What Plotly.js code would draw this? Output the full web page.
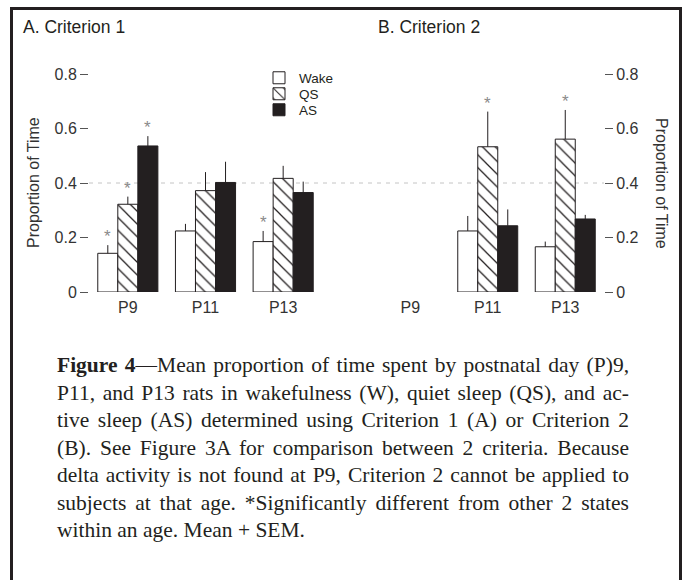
<!DOCTYPE html>
<html>
<head>
<meta charset="utf-8">
<script src="https://cdn.plot.ly/plotly-3.0.1.min.js"></script>
<style>
  html, body { margin: 0; padding: 0; background: #fff; }
  #wrap { position: relative; width: 686px; height: 580px; overflow: hidden; }
  #chart { position: absolute; left: 0; top: 0; width: 686px; height: 580px; }
  #frame { position: absolute; left: 10px; top: 7px; width: 666px; height: 600px;
           border: 3px solid #231f20; pointer-events: none; }
  #caption { position: absolute; left: 57px; top: 352px; width: 572px;
             font-family: "Liberation Serif", "Times New Roman", serif; font-size: 21.5px;
             line-height: 27.5px; color: #231f20; }
  #caption .ln { text-align: justify; text-align-last: justify; white-space: nowrap; }
  #caption .ln.last { text-align-last: left; }
</style>
</head>
<body>
<div id="wrap">
  <div id="chart"></div>
  <div id="frame"></div>
  <div id="caption">
    <div class="ln"><b>Figure 4</b>—Mean proportion of time spent by postnatal day (P)9,</div>
    <div class="ln">P11, and P13 rats in wakefulness (W), quiet sleep (QS), and ac-</div>
    <div class="ln">tive sleep (AS) determined using Criterion 1 (A) or Criterion 2</div>
    <div class="ln">(B). See Figure 3A for comparison between 2 criteria. Because</div>
    <div class="ln">delta activity is not found at P9, Criterion 2 cannot be applied to</div>
    <div class="ln">subjects at that age. *Significantly different from other 2 states</div>
    <div class="ln last">within an age. Mean + SEM.</div>
  </div>
</div>
<script>
// ---- data ----
const ages = ['P9', 'P11', 'P13'];
const states = ['Wake', 'QS', 'AS'];
const yTicks = [0, 0.2, 0.4, 0.6, 0.8];
const yTickText = ['0', '0.2', '0.4', '0.6', '0.8'];

const c1Wake = [0.142, 0.224, 0.185];
const c1WakeErr = [0.030, 0.026, 0.039];
const c1QS = [0.322, 0.372, 0.417];
const c1QSErr = [0.028, 0.068, 0.046];
const c1AS = [0.536, 0.402, 0.365];
const c1ASErr = [0.036, 0.076, 0.040];

const c2Wake = [null, 0.224, 0.166];
const c2WakeErr = [null, 0.055, 0.019];
const c2QS = [null, 0.533, 0.561];
const c2QSErr = [null, 0.129, 0.107];
const c2AS = [null, 0.243, 0.268];
const c2ASErr = [null, 0.060, 0.015];

const c1Sig = { Wake: [1, 0, 1], QS: [1, 0, 0], AS: [1, 0, 0] };
const c2Sig = { Wake: [0, 0, 0], QS: [0, 1, 1], AS: [0, 0, 0] };

const panelTitles = ['A. Criterion 1', 'B. Criterion 2'];
const yTitle = 'Proportion of Time';

// ---- styling ----
const W = 686, H = 580;
const PLOT_TOP = 74, PLOT_BOTTOM = 292, PH = PLOT_BOTTOM - PLOT_TOP;
const INK = '#231f20';
const FONT = 'Liberation Sans, Arial, sans-serif';
const bargap = 0.226;
const styles = {
  Wake: { color: '#ffffff', line: { color: INK, width: 1 } },
  QS: { color: '#ffffff', line: { color: INK, width: 1 },
        pattern: { shape: '\\', fgcolor: INK, bgcolor: '#ffffff', size: 9, solidity: 0.14 } },
  AS: { color: INK, line: { color: INK, width: 1 } }
};
const legendNames = ['legend', 'legend2', 'legend3'];
const legendRowsPx = [78, 94, 110];

const panels = [
  { vals: { Wake: c1Wake, QS: c1QS, AS: c1AS }, errs: { Wake: c1WakeErr, QS: c1QSErr, AS: c1ASErr },
    sig: c1Sig, xa: 'x', ya: 'y' },
  { vals: { Wake: c2Wake, QS: c2QS, AS: c2AS }, errs: { Wake: c2WakeErr, QS: c2QSErr, AS: c2ASErr },
    sig: c2Sig, xa: 'x2', ya: 'y2' }
];

const traces = [];
const annotations = [];
const slot = (1 - bargap) / states.length;
panels.forEach((p, pi) => {
  states.forEach((s, si) => {
    traces.push({
      type: 'bar', name: s, x: ages, y: p.vals[s],
      xaxis: p.xa, yaxis: p.ya, legend: legendNames[si], showlegend: pi === 0,
      marker: styles[s],
      error_y: { type: 'data', symmetric: false, array: p.errs[s],
                 arrayminus: p.errs[s].map(v => 0), color: INK, thickness: 1, width: 0 },
      cliponaxis: false, hoverinfo: 'skip'
    });
    ages.forEach((a, ai) => {
      if (p.sig[s][ai] && p.vals[s][ai] != null) {
        annotations.push({
          xref: p.xa, yref: p.ya,
          x: ai + (si - 1) * slot,
          y: p.vals[s][ai] + p.errs[s][ai],
          text: '*', showarrow: false, yanchor: 'bottom', yshift: -3,
          font: { family: FONT, size: 17, color: '#8a8a8a' }
        });
      }
    });
  });
});

const pyPaper = px => (PLOT_BOTTOM - px) / PH;

// panel titles
annotations.push({ xref: 'paper', yref: 'paper', x: 21 / W, y: pyPaper(27), xanchor: 'left', yanchor: 'middle',
  text: panelTitles[0], showarrow: false, font: { family: FONT, size: 17.5, color: INK } });
annotations.push({ xref: 'paper', yref: 'paper', x: 376 / W, y: pyPaper(27), xanchor: 'left', yanchor: 'middle',
  text: panelTitles[1], showarrow: false, font: { family: FONT, size: 17.5, color: INK } });
// y titles
annotations.push({ xref: 'paper', yref: 'paper', x: 33 / W, y: 0.5, xanchor: 'center', yanchor: 'middle', textangle: -90,
  text: yTitle, showarrow: false, font: { family: FONT, size: 16, color: '#333' } });
annotations.push({ xref: 'paper', yref: 'paper', x: 662 / W, y: 0.5, xanchor: 'center', yanchor: 'middle', textangle: 90,
  text: yTitle, showarrow: false, font: { family: FONT, size: 16, color: '#333' } });

const tickFont = { family: FONT, size: 16, color: '#333' };
const xCommon = { type: 'category', categoryarray: ages, categoryorder: 'array', range: [-0.5, 2.5],
  showgrid: false, zeroline: false, showline: false, ticks: 'outside', ticklen: 1,
  tickcolor: 'rgba(0,0,0,0)', tickfont: tickFont, fixedrange: true };
const yCommon = { range: [0, 0.8], tickvals: yTicks, ticktext: yTickText, showgrid: false, zeroline: false,
  showline: false, ticks: 'outside', ticklen: 8, tickwidth: 1, tickcolor: '#555', tickfont: tickFont, fixedrange: true };

const layout = {
  width: W, height: H,
  margin: { l: 0, r: 0, t: PLOT_TOP, b: H - PLOT_BOTTOM },
  paper_bgcolor: '#ffffff', plot_bgcolor: 'rgba(0,0,0,0)',
  barmode: 'group', bargap: bargap, bargroupgap: 0,
  showlegend: true,
  xaxis: Object.assign({}, xCommon, { domain: [89 / W, 322 / W], anchor: 'y' }),
  yaxis: Object.assign({}, yCommon, { domain: [0, 1], anchor: 'x', side: 'left' }),
  xaxis2: Object.assign({}, xCommon, { domain: [371.5 / W, 604 / W], anchor: 'y2' }),
  yaxis2: Object.assign({}, yCommon, { domain: [0, 1], anchor: 'x2', side: 'right' }),
  shapes: [{ type: 'line', xref: 'paper', yref: 'y', x0: 89 / W, x1: 604 / W, y0: 0.4, y1: 0.4,
             layer: 'below', line: { color: '#c4c4c4', width: 1, dash: '4px,5px' } }],
  annotations: annotations
};
legendNames.forEach((ln, i) => {
  layout[ln] = { x: 259 / W, y: pyPaper(legendRowsPx[i]), xanchor: 'left', yanchor: 'middle',
    bgcolor: 'rgba(0,0,0,0)', font: { family: FONT, size: 13.5, color: INK }, itemwidth: 30 };
});

Plotly.newPlot('chart', traces, layout, { displayModeBar: false, staticPlot: true });
</script>
</body>
</html>
